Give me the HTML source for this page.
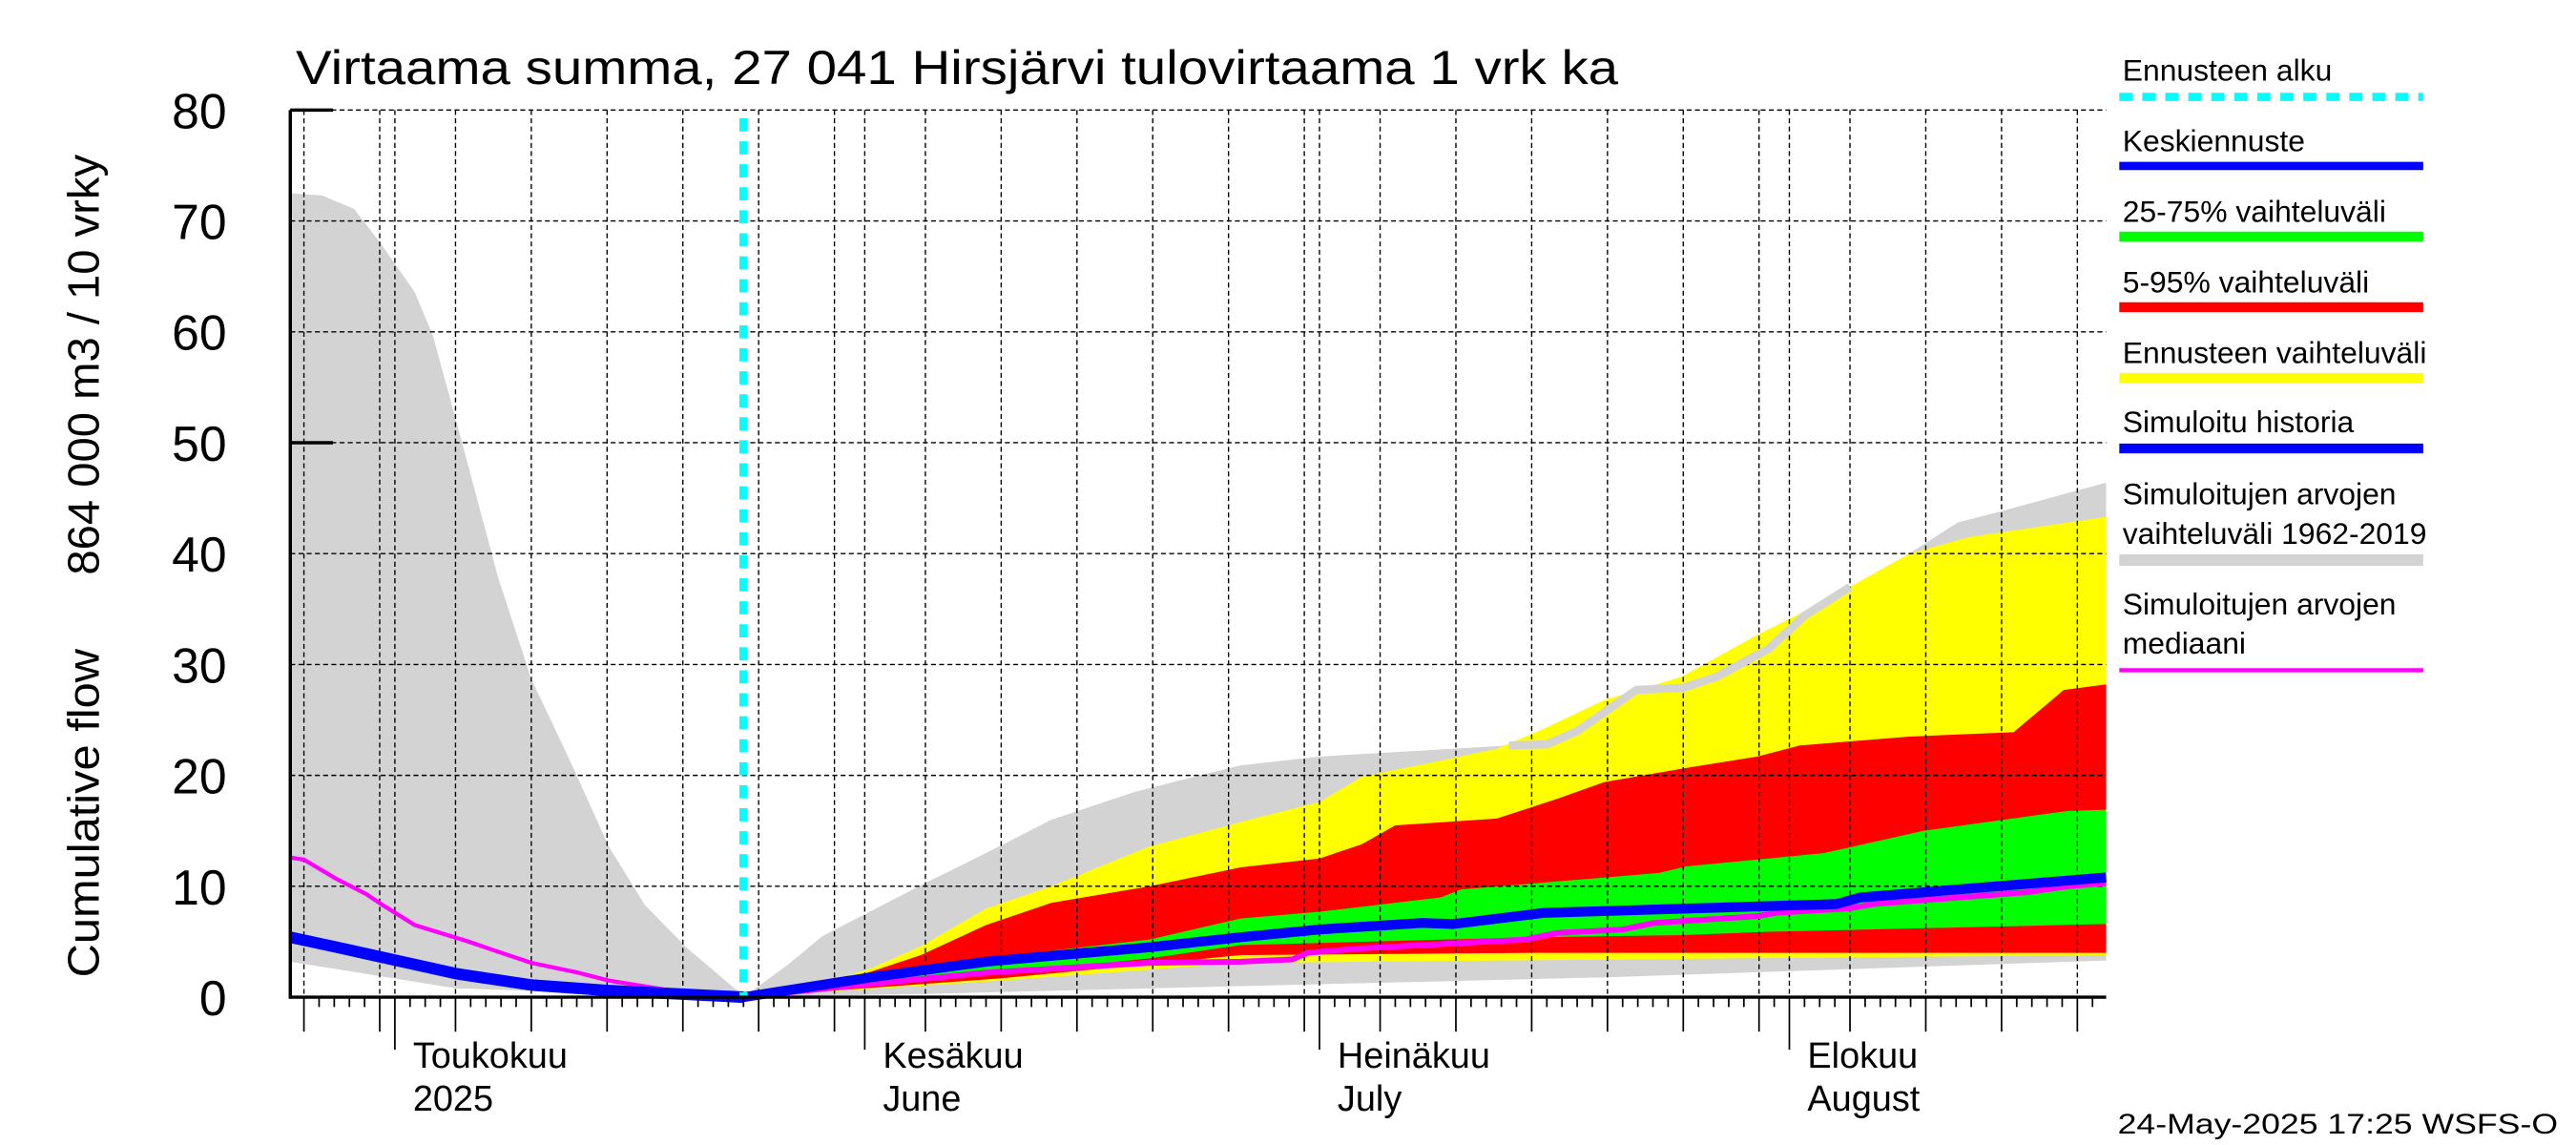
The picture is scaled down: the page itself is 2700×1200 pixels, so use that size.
<!DOCTYPE html>
<html><head><meta charset="utf-8"><style>
html,body{margin:0;padding:0;background:#fff;}
svg{display:block;font-family:"Liberation Sans",Arial,sans-serif;}
</style></head><body>
<svg id="chart" width="2700" height="1200" viewBox="0 0 1568 697" preserveAspectRatio="none" xmlns="http://www.w3.org/2000/svg">
<rect x="0" y="0" width="1568" height="697" fill="#fff"/>
<g id="fills"></g><g id="grid"></g><g id="lines"></g><g id="axes"></g>
<text x="180" y="51" font-size="29" textLength="805" lengthAdjust="spacingAndGlyphs">Virtaama summa, 27 041 Hirsjärvi tulovirtaama 1 vrk ka</text>
<text transform="translate(60,495) rotate(-90)" text-anchor="middle" font-size="27" textLength="200" lengthAdjust="spacingAndGlyphs">Cumulative flow</text>
<text transform="translate(60,222) rotate(-90)" text-anchor="middle" font-size="27" textLength="256" lengthAdjust="spacingAndGlyphs">864 000 m3 / 10 vrky</text>
<text x="1557" y="690" font-size="17" text-anchor="end" textLength="268" lengthAdjust="spacingAndGlyphs">24-May-2025 17:25 WSFS-O</text>
<g id="legend"></g>
</svg>
<script>
// day offsets relative to 1 May 2025
var histDays = [-6.9, -4.8, -2.7, -0.9, 1.3, 2.5, 4.1, 6.8, 9.0, 11.7, 14.1, 16.5, 19.3, 23];
var histGrayTop = [72.5, 72.3, 71.1, 67.9, 63.6, 59.7, 51.7, 37.9, 28.7, 20.9, 13.6, 8.3, 4.4, 0.1];
var histGrayBotDays = [-6.9, 4, 15, 23];
var histGrayBot = [3.2, 0.8, 0.3, 0];
var histBlueDays = [-6.9, -3.5, 4.1, 9.0, 14.1, 23];
var histBlue = [5.4, 4.4, 2.1, 1.1, 0.6, 0];
var histMedDays = [-6.9, -6, -3.9, -1.9, -0.8, 1.3, 4.9, 6.8, 9.0, 12.1, 14.1, 18.2, 23];
var histMed = [12.6, 12.4, 10.7, 9.3, 8.3, 6.5, 5.0, 4.1, 3.1, 2.2, 1.5, 0.6, 0.1];

var grayTopDays = [23, 26, 28.2, 35, 39, 43.3, 48.8, 53.1, 55.8, 61, 73.5, 76, 78, 81.9, 85, 87.2, 90.6, 93, 96, 99.9, 103.1, 105.9, 112.9];
var grayTop = [0, 3, 5.5, 10.3, 13, 16, 18.5, 20, 20.9, 21.7, 22.7, 22.8, 24, 27.7, 27.9, 28.9, 31.4, 34.4, 37, 40, 42.8, 43.8, 46.4];
var grayBotDays = [23, 35, 55.8, 80, 112.9];
var grayBot = [0, 0.3, 1.0, 1.8, 3.3];
var grayLineDays = [73.5, 76, 78, 81.9, 85, 87.2, 90.6, 93, 96];
var grayLine = [22.7, 22.8, 24, 27.7, 27.9, 28.9, 31.4, 34.4, 37];

var yelTopDays = [23, 28.2, 31.4, 34.7, 39, 43.3, 49.8, 53.1, 55.8, 61, 63.8, 67.8, 72.7, 75.8, 79.8, 84.9, 89.9, 93.9, 99.9, 103.9, 112.9];
var yelTop = [0, 1.2, 2.6, 4.6, 8, 10, 13.6, 14.8, 15.8, 17.6, 19.9, 21, 22.4, 24.2, 26.8, 28.9, 32.7, 35.4, 40, 41.5, 43.3];
var yelBotDays = [23, 40, 55.8, 112.9];
var yelBot = [0, 1.5, 3.1, 3.8];

var redTopDays = [23, 28.2, 31.4, 34.7, 39, 43.3, 49.8, 55.8, 61, 63.8, 66, 72.7, 76.7, 79.8, 84.9, 89.9, 92.7, 99.9, 106.8, 110.1, 112.9];
var redTop = [0, 1.0, 2.3, 3.8, 6.5, 8.5, 10, 11.7, 12.5, 13.8, 15.5, 16.1, 17.9, 19.4, 20.6, 21.7, 22.7, 23.5, 23.9, 27.7, 28.2];
var redBotDays = [23, 40, 55.8, 75.1, 112.9];
var redBot = [0, 1.7, 3.8, 4.0, 4.0];

var grnTopDays = [23, 31.4, 39, 49.8, 55.8, 61, 69.0, 70.3, 83.4, 85.2, 94.3, 100.8, 110.4, 112.9];
var grnTop = [0, 1.8, 3.5, 5.2, 7.1, 7.7, 9.0, 9.7, 11.2, 11.8, 13.0, 15.0, 16.8, 16.9];
var grnBotDays = [23, 31.4, 39, 49.8, 55.8, 75.1, 85.0, 90.6, 112.9];
var grnBot = [0, 1.0, 2.0, 3.5, 4.7, 5.4, 5.6, 5.9, 6.6];

var fcBlueDays = [23, 31.4, 39, 49.8, 55.8, 61, 67.8, 69.8, 75.8, 85.5, 95.1, 96.7, 112.9];
var fcBlue = [0, 1.8, 3.2, 4.5, 5.4, 6.1, 6.7, 6.6, 7.6, 8.0, 8.4, 9.0, 10.8];
var fcMedDays = [23, 31.4, 39, 49.8, 55.8, 59.2, 60.2, 63.8, 74.6, 76.7, 81.0, 83.1, 89.9, 91.1, 95.9, 97.6, 107.9, 110.4, 112.9];
var fcMed = [0, 1.2, 2.2, 3.1, 3.2, 3.4, 4.0, 4.4, 5.2, 5.8, 6.1, 6.7, 7.3, 7.6, 8.0, 8.4, 9.5, 10.0, 10.3];

var yTicks = [0, 10, 20, 30, 40, 50, 60, 70, 80];
var monthStarts = [0, 31, 61, 92];
var monthNames = ["Toukokuu", "Kesäkuu", "Heinäkuu", "Elokuu"];
var monthSub = ["2025", "June", "July", "August"];
var forecastDay = 23;

var X0 = 176.7, X1 = 1282, DMIN = -6.9, DMAX = 112.9;
var Y0 = 607, PPU = 6.75;
function xs(d){ return X0 + (d - DMIN) * (X1 - X0) / (DMAX - DMIN); }
function ys(v){ return Y0 - v * PPU; }
var NS = "http://www.w3.org/2000/svg";
function mk(tag, attrs, parent){ var e = document.createElementNS(NS, tag); for (var k in attrs) e.setAttribute(k, attrs[k]); parent.appendChild(e); return e; }
function pts(ds, vs){ return ds.map(function(d,i){ return xs(d).toFixed(1)+","+ys(vs[i]).toFixed(1); }); }
function band(tD, tV, bD, bV, color, name){
  var p = pts(tD, tV).concat(pts(bD, bV).reverse());
  var e = mk("polygon", {points: p.join(" "), fill: color}, document.getElementById("fills"));
  
  
}
function line(ds, vs, color, w, name){
  var e = mk("polyline", {points: pts(ds, vs).join(" "), fill: "none", stroke: color, "stroke-width": w, "stroke-linejoin": "round"}, document.getElementById("lines"));
  
  
}
band(histDays, histGrayTop, histGrayBotDays, histGrayBot, "#d3d3d3", "history-range-band");
band(grayTopDays, grayTop, grayBotDays, grayBot, "#d3d3d3", "simulated-range-band");
band(yelTopDays, yelTop, yelBotDays, yelBot, "#ffff00", "forecast-range-band");
band(redTopDays, redTop, redBotDays, redBot, "#ff0000", "band-5-95");
band(grnTopDays, grnTop, grnBotDays, grnBot, "#00ff00", "band-25-75");

// grid
var g = document.getElementById("grid");
yTicks.forEach(function(v){
  if (v === 0) return;
  var e = mk("line", {x1: X0, x2: X1, y1: ys(v), y2: ys(v), stroke: "#000", "stroke-width": 0.8, "stroke-dasharray": "3,2"}, g);
  
  
});
var gridDays = [-6, -1];
var mlen = [31, 30, 31, 30];
monthStarts.forEach(function(m, i){
  gridDays.push(m);
  for (var k = 5; k <= 30; k += 5) { if (k - 1 < mlen[i]) gridDays.push(m + k - 1); }
});
gridDays.forEach(function(d){
  if (d > DMAX) return;
  var e = mk("line", {x1: xs(d), x2: xs(d), y1: ys(80), y2: Y0, stroke: "#000", "stroke-width": 0.8, "stroke-dasharray": "3,2"}, g);
  
  
});

line(grayLineDays, grayLine, "#d3d3d3", 5, "simulated-range-upper-line");
line(histMedDays, histMed, "#ff00ff", 2.5, "median-history-line");
line(fcMedDays, fcMed, "#ff00ff", 3.5, "median-forecast-line");
line(histBlueDays, histBlue, "#0000ff", 7, "simulated-history-line");
line(fcBlueDays, fcBlue, "#0000ff", 6, "mean-forecast-line");
var fl = mk("line", {x1: xs(forecastDay), x2: xs(forecastDay), y1: 72, y2: Y0, stroke: "#00ffff", "stroke-width": 5, "stroke-dasharray": "8,6"}, document.getElementById("lines"));



// axes
var ax = document.getElementById("axes");
var e;
e = mk("line", {x1: X0, x2: X0, y1: ys(80), y2: Y0 + 1, stroke: "#000", "stroke-width": 2}, ax);
 
e = mk("line", {x1: X0, x2: X1, y1: Y0, y2: Y0, stroke: "#000", "stroke-width": 2}, ax);
 
[80, 50].forEach(function(v){
  var t = mk("line", {x1: X0, x2: X0 + 26, y1: ys(v), y2: ys(v), stroke: "#000", "stroke-width": 2}, ax);
   
});
yTicks.forEach(function(v){
  var t = mk("text", {x: 138, y: ys(v) + 11, "font-size": 30, "text-anchor": "end"}, ax);
  t.textContent = v;
  
  
});
for (var d = -6; d <= DMAX; d++) {
  var len = 6;
  if (gridDays.indexOf(d) >= 0) len = 21;
  if (monthStarts.indexOf(d) >= 0) len = 32;
  var t = mk("line", {x1: xs(d), x2: xs(d), y1: Y0, y2: Y0 + len, stroke: "#000", "stroke-width": 1}, ax);
  
  
}
monthStarts.forEach(function(m, i){
  var t1 = mk("text", {x: xs(m) + 11, y: 650, "font-size": 22}, ax);
  t1.textContent = monthNames[i];
  
  
  var t2 = mk("text", {x: xs(m) + 11, y: 676, "font-size": 22}, ax);
  t2.textContent = monthSub[i];
  
  
});

// legend
var lg = document.getElementById("legend");
var legendItems = [
  [["Ennusteen alku"], 49, 59, "#00ffff", 5, "8,6"],
  [["Keskiennuste"], 92, 101, "#0000ff", 5, null],
  [["25-75% vaihteluväli"], 135, 144, "#00ff00", 6, null],
  [["5-95% vaihteluväli"], 178, 187, "#ff0000", 6, null],
  [["Ennusteen vaihteluväli"], 221, 230, "#ffff00", 6, null],
  [["Simuloitu historia"], 263, 273, "#0000ff", 6, null],
  [["Simuloitujen arvojen", "vaihteluväli 1962-2019"], 307, 341, "#d3d3d3", 7, null],
  [["Simuloitujen arvojen", "mediaani"], 374, 408, "#ff00ff", 2.5, null]
];
legendItems.forEach(function(it){
  it[0].forEach(function(s, j){
    var t = mk("text", {x: 1292, y: it[1] + j * 24, "font-size": 18.5}, lg);
    t.textContent = s;
    
    
  });
  var a = {x1: 1290, x2: 1475, y1: it[2], y2: it[2], stroke: it[3], "stroke-width": it[4]};
  if (it[5]) a["stroke-dasharray"] = it[5];
  var l = mk("line", a, lg);
  
  
});
</script>
</body></html>
